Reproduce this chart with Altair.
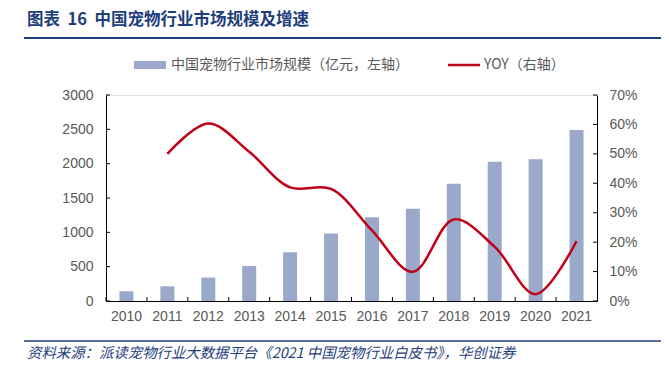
import altair as alt
import pandas as pd

years = ["2010", "2011", "2012", "2013", "2014", "2015", "2016", "2017", "2018", "2019", "2020", "2021"]
market_size = [141, 214, 341, 510, 710, 983, 1220, 1342, 1706, 2027, 2066, 2490]
yoy = [None, 0.500, 0.603, 0.507, 0.386, 0.381, 0.240, 0.099, 0.277, 0.184, 0.023, 0.204]
left_ticks = [0, 500, 1000, 1500, 2000, 2500, 3000]
right_ticks = [0, 0.1, 0.2, 0.3, 0.4, 0.5, 0.6, 0.7]

title_text = "图表\u00a0\u00a016\u00a0\u00a0中国宠物行业市场规模及增速"
legend_bar = "中国宠物行业市场规模（亿元，左轴）"
legend_line = "YOY（右轴）"
source_text = "资料来源：派读宠物行业大数据平台《2021 中国宠物行业白皮书》，华创证券"

W, H = 491, 206
BAR_COLOR = "#9AA8CA"
LINE_COLOR = "#C00018"
NAVY = "#1F3E7C"
GRAY = "#595959"
NUM_FONT = "Liberation Sans"
CJK = "Noto Sans CJK SC"

df = pd.DataFrame({"year": years, "size": market_size, "yoy": yoy})
df_line = df.dropna()
lt = pd.DataFrame({"v": left_ticks})
rt = pd.DataFrame({"v": right_ticks})
one = pd.DataFrame({"a": [0]})

x_axis = alt.Axis(labelAngle=0, ticks=False, domainColor="black", labelColor=GRAY,
                  labelFont=NUM_FONT, labelFontSize=14, labelPadding=8, labelOverlap=False,
                  title=None)
x_scale = alt.Scale(paddingInner=0, paddingOuter=0)
left_axis = alt.Axis(orient="left", values=left_ticks, format="d", grid=False, ticks=False,
                     domainColor="black", labelColor=GRAY, labelFont=NUM_FONT,
                     labelFontSize=14, labelPadding=13, labelOverlap=False, title=None)
right_axis = alt.Axis(orient="right", values=right_ticks, format=".0%", grid=False, ticks=False,
                      domainColor="black", labelColor=GRAY, labelFont=NUM_FONT,
                      labelFontSize=14, labelPadding=12, labelOverlap=False, title=None)

yleft_scale = alt.Scale(domain=[0, 3000], nice=False)
yright_scale = alt.Scale(domain=[0, 0.7], nice=False)

bars = alt.Chart(df).mark_bar(width=14, color=BAR_COLOR).encode(
    x=alt.X("year:N", sort=years, scale=x_scale, axis=x_axis),
    y=alt.Y("size:Q", scale=yleft_scale, axis=left_axis),
)
lticks = alt.Chart(lt).mark_rule(color="black", strokeWidth=1).encode(
    y=alt.Y("v:Q", scale=yleft_scale, axis=left_axis), x=alt.value(0), x2=alt.value(4))
xticks = alt.Chart(df).mark_rule(color="black", strokeWidth=1).encode(
    x=alt.X("year:N", sort=years, bandPosition=0, scale=x_scale, axis=x_axis),
    y=alt.value(H), y2=alt.value(H - 4))

line = alt.Chart(df_line).mark_line(color=LINE_COLOR, strokeWidth=2.5, interpolate="catmull-rom").encode(
    x=alt.X("year:N", sort=years, scale=x_scale, axis=x_axis),
    y=alt.Y("yoy:Q", scale=yright_scale, axis=right_axis),
)
rticks = alt.Chart(rt).mark_rule(color="black", strokeWidth=1).encode(
    y=alt.Y("v:Q", scale=yright_scale, axis=right_axis), x=alt.value(W), x2=alt.value(W - 4))

# decorations: title, rules, legend, source
title = alt.Chart(one).mark_text(align="left", baseline="middle", font=CJK, fontSize=16.5,
                                 fontWeight="bold", color=NAVY).encode(
    x=alt.value(-79), y=alt.value(-75), text=alt.value(title_text))
top_rule = alt.Chart(one).mark_rule(color=NAVY, strokeWidth=2).encode(
    x=alt.value(-82), x2=alt.value(570), y=alt.value(-57))
bottom_rule = alt.Chart(one).mark_rule(color=NAVY, strokeWidth=1.5).encode(
    x=alt.value(-82), x2=alt.value(570), y=alt.value(246))
source = alt.Chart(one).mark_text(align="left", baseline="middle", font=CJK, fontSize=14.4,
                                  fontStyle="italic", color=NAVY).encode(
    x=alt.value(-79), y=alt.value(259), text=alt.value(source_text))

leg_rect = alt.Chart(one).mark_rect(color=BAR_COLOR).encode(
    x=alt.value(28), x2=alt.value(60), y=alt.value(-34), y2=alt.value(-26))
leg_t1 = alt.Chart(one).mark_text(align="left", baseline="middle", font=CJK, fontSize=14,
                                  color=GRAY).encode(
    x=alt.value(65), y=alt.value(-30), text=alt.value(legend_bar))
leg_line = alt.Chart(one).mark_rule(color=LINE_COLOR, strokeWidth=2.5).encode(
    x=alt.value(342), x2=alt.value(374), y=alt.value(-30))
leg_t2 = alt.Chart(one).mark_text(align="left", baseline="middle", font=CJK, fontSize=14,
                                  color=GRAY).encode(
    x=alt.value(378), y=alt.value(-30), text=alt.value(legend_line))

left_layer = alt.layer(bars, lticks, xticks)
right_layer = alt.layer(line, rticks)

chart = alt.layer(
    left_layer, right_layer,
    title, top_rule, bottom_rule, source, leg_rect, leg_t1, leg_line, leg_t2,
).resolve_scale(y="independent").properties(
    width=W, height=H,
    autosize=alt.AutoSizeParams(type="none"),
    padding={"left": 98, "top": 87, "right": 64, "bottom": 66},
).configure_view(stroke=None).configure(background="white")

chart.save("out.html", embed_options={"renderer": "svg", "actions": False})
